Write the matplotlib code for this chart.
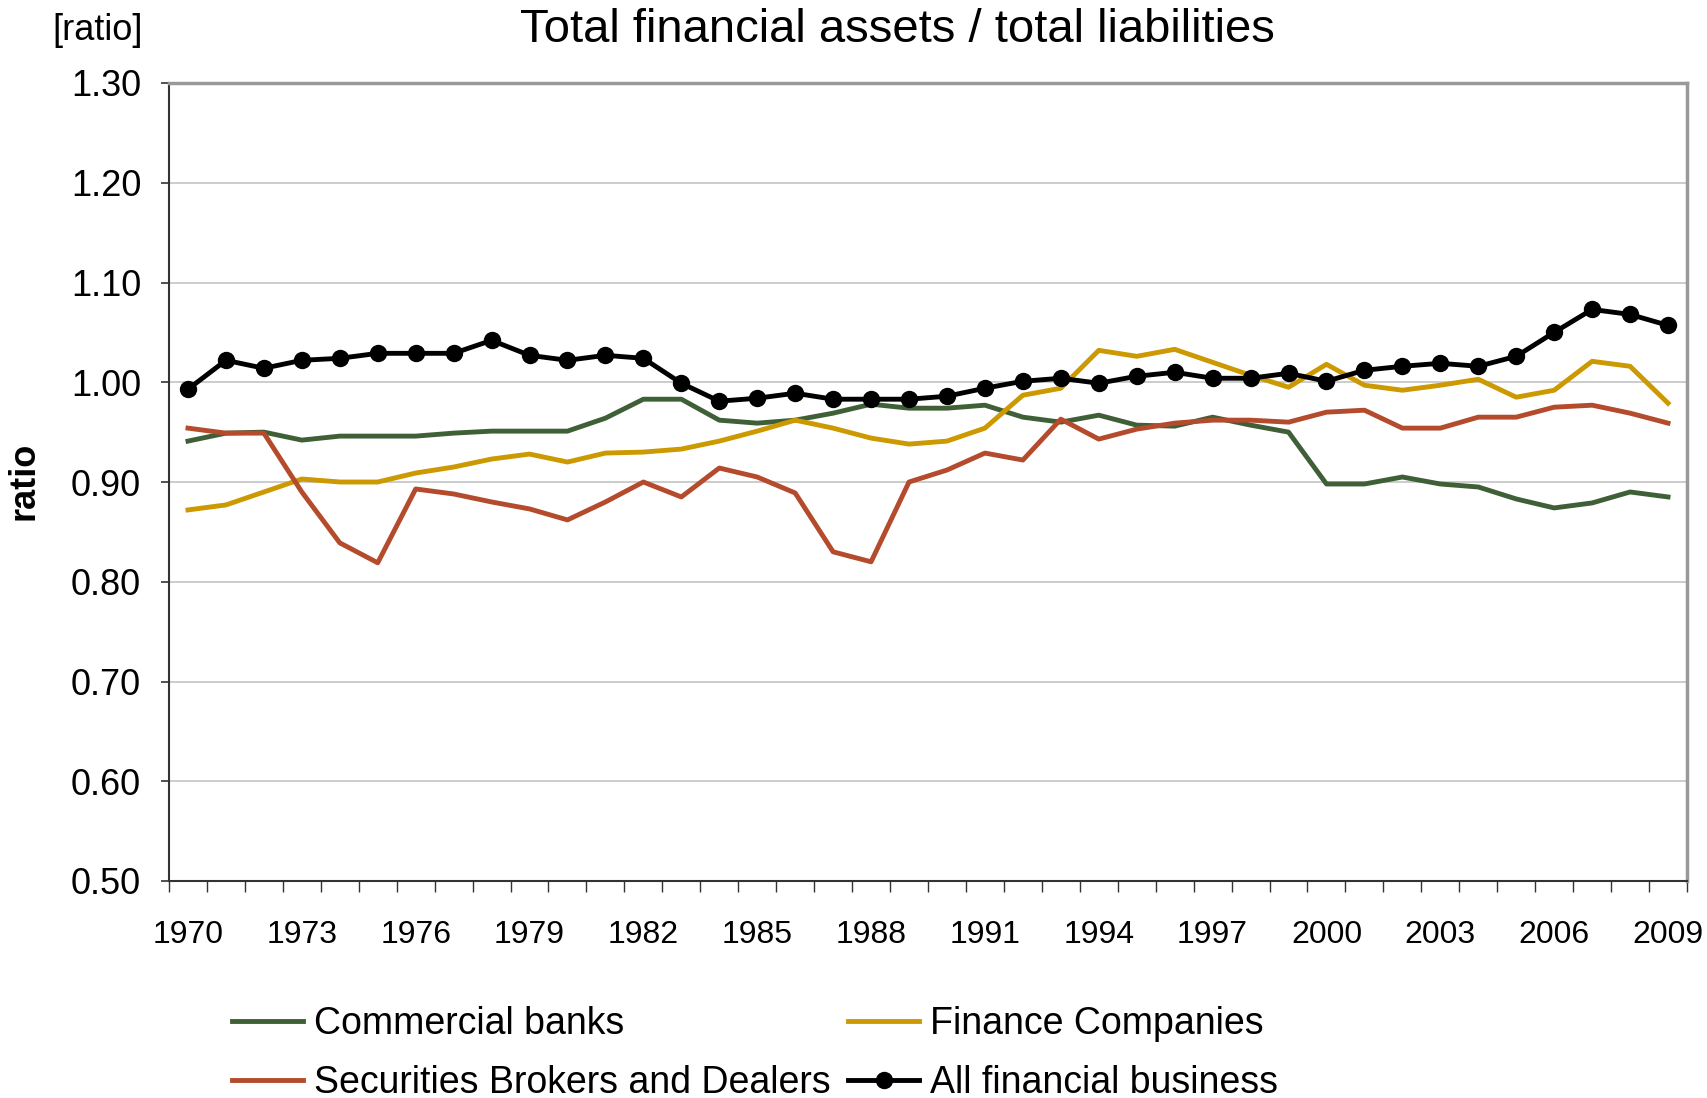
import matplotlib
matplotlib.use("Agg")
import matplotlib.pyplot as plt
import numpy as np

years = list(range(1970, 2010))

commercial_banks = [0.941, 0.949, 0.950, 0.942, 0.946, 0.946, 0.946, 0.949, 0.951, 0.951,
                    0.951, 0.964, 0.983, 0.983, 0.962, 0.959, 0.962, 0.969, 0.978, 0.974,
                    0.974, 0.977, 0.965, 0.960, 0.967, 0.957, 0.956, 0.965, 0.957, 0.950,
                    0.898, 0.898, 0.905, 0.898, 0.895, 0.883, 0.874, 0.879, 0.890, 0.885]

finance_companies = [0.872, 0.877, 0.890, 0.903, 0.900, 0.900, 0.909, 0.915, 0.923, 0.928,
                     0.920, 0.929, 0.930, 0.933, 0.941, 0.951, 0.962, 0.954, 0.944, 0.938,
                     0.941, 0.954, 0.987, 0.994, 1.032, 1.026, 1.033, 1.020, 1.007, 0.995,
                     1.018, 0.997, 0.992, 0.997, 1.003, 0.985, 0.992, 1.021, 1.016, 0.979]

securities_brokers = [0.954, 0.949, 0.949, 0.890, 0.839, 0.819, 0.893, 0.888, 0.880, 0.873,
                      0.862, 0.880, 0.900, 0.885, 0.914, 0.905, 0.889, 0.830, 0.820, 0.900,
                      0.912, 0.929, 0.922, 0.963, 0.943, 0.953, 0.959, 0.962, 0.962, 0.960,
                      0.970, 0.972, 0.954, 0.954, 0.965, 0.965, 0.975, 0.977, 0.969, 0.959]

all_financial = [0.993, 1.022, 1.014, 1.022, 1.024, 1.029, 1.029, 1.029, 1.042, 1.027,
                 1.022, 1.027, 1.024, 0.999, 0.981, 0.984, 0.989, 0.983, 0.983, 0.983,
                 0.986, 0.994, 1.001, 1.004, 0.999, 1.006, 1.010, 1.004, 1.004, 1.009,
                 1.001, 1.012, 1.016, 1.019, 1.016, 1.026, 1.050, 1.073, 1.068, 1.057]

labels = ["Commercial banks", "Securities Brokers and Dealers",
          "Finance Companies", "All financial business"]
y_ticks = [0.50, 0.60, 0.70, 0.80, 0.90, 1.00, 1.10, 1.20, 1.30]
x_label_years = list(range(1970, 2010, 3))

plt.rcParams['font.family'] = ['Liberation Sans', 'DejaVu Sans']

fig = plt.figure(figsize=(17.08, 10.98), dpi=100)
ax = fig.add_axes([169/1708, 1 - 881/1098, (1687-169)/1708, (881-83)/1098])

x = np.arange(len(years))
lw = 3.5
l_cb, = ax.plot(x, commercial_banks, color='#3f5f37', lw=lw, label=labels[0], zorder=3)
l_fc, = ax.plot(x, finance_companies, color='#cc9900', lw=lw, label=labels[2], zorder=3)
l_sb, = ax.plot(x, securities_brokers, color='#b34b2c', lw=lw, label=labels[1], zorder=3)
l_af, = ax.plot(x, all_financial, color='black', lw=lw, marker='o', markersize=11.5,
                label=labels[3], zorder=4)

ax.set_ylim(0.5, 1.3)
ax.set_yticks(y_ticks)
ax.set_yticklabels([f"{v:.2f}" for v in y_ticks])
ax.set_xlim(-0.5, len(years) - 0.5)

major_pos = [years.index(yv) for yv in x_label_years]
ax.set_xticks(major_pos)
ax.set_xticklabels([str(yv) for yv in x_label_years])
ax.set_xticks(np.arange(-0.5, len(years), 1.0), minor=True)
ax.tick_params(axis='x', which='major', length=0, pad=28, labelsize=23)
ax.tick_params(axis='x', which='minor', length=8, width=1.0, color='#333333')
ax.tick_params(axis='y', which='major', length=6, width=1.2, pad=14, labelsize=26, color='#333333')

ax.grid(axis='y', color='#c8c8c8', lw=1.3, zorder=0)
ax.set_axisbelow(True)

for s in ['left', 'bottom']:
    ax.spines[s].set_color('#333333')
    ax.spines[s].set_linewidth(1.5)
for s in ['top', 'right']:
    ax.spines[s].set_color('#999999')
    ax.spines[s].set_linewidth(2.5)

fig.text(897/1708, 1 - 30/1098, "Total financial assets / total liabilities",
         ha='center', va='center', fontsize=34)
fig.text(98/1708, 1 - 30/1098, "[ratio]", ha='center', va='center', fontsize=26)
fig.text(24/1708, 1 - 481/1098, "ratio", ha='center', va='center', fontsize=26,
         fontweight='bold', rotation=90)

fig.legend([l_cb, l_sb, l_fc, l_af], labels, ncol=2, loc='upper left',
           bbox_to_anchor=(232/1708, 1 - 1006/1098), frameon=False, fontsize=27,
           handlelength=1.9, handletextpad=0.3, columnspacing=0.45,
           labelspacing=0.62, borderpad=0, borderaxespad=0)

fig.savefig("out.png", dpi=100)
